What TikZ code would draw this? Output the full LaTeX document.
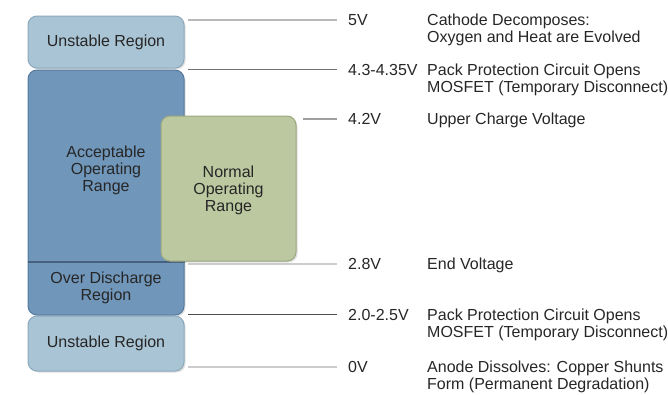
\documentclass[tikz,border=0pt]{standalone}
\usepackage{fontspec}
\setmainfont{Liberation Sans}
\usetikzlibrary{positioning,shadows}
\definecolor{unstfill}{HTML}{A9C4D4}
\definecolor{unstdraw}{HTML}{8CA9BC}
\definecolor{accfill}{HTML}{7096BA}
\definecolor{accdraw}{HTML}{56799E}
\definecolor{normfill}{HTML}{BCC8A0}
\definecolor{normdraw}{HTML}{9BA881}
\definecolor{txtgray}{HTML}{262626}
\begin{document}
\begin{tikzpicture}[x=1pt,y=-1pt,
  every node/.style={font=\fontsize{16}{17}\selectfont,text=txtgray},
  region/.style={draw,rounded corners=9pt,line width=1pt,
    drop shadow={shadow xshift=1.5pt,shadow yshift=-1.5pt,opacity=.25}},
  lbl/.style={align=center,inner sep=0pt},
  volt/.style={anchor=north west,inner sep=0pt},
  desc/.style={anchor=north west,inner sep=0pt,align=left},
  lvl/.style={line width=1.8pt,draw=gray!55}]
\useasboundingbox (0,0) rectangle (668,394);

% regions
\node[region,fill=unstfill,draw=unstdraw,minimum width=156pt,minimum height=52pt] (unstTop) at (106,42) {};
\node[region,fill=accfill,draw=accdraw,minimum width=156pt,minimum height=245pt] (accept) at (106,192.5) {};
\draw[accdraw!80!black,line width=1.2pt] (accept.west |- 0,262) -- (accept.east |- 0,262);
\node[region,fill=normfill,draw=normdraw,minimum width=135pt,minimum height=145pt] (normal) at (228.5,188.5) {};
\node[region,fill=unstfill,draw=unstdraw,minimum width=156pt,minimum height=55pt] (unstBot) at (106,343.5) {};

\node[lbl] (tUnstTop) at (unstTop) {Unstable Region};
\node[lbl] (tAccept) at (106,170) {Acceptable\\Operating\\Range};
\node[lbl] (tNormal) at (228.5,190) {Normal\\Operating\\Range};
\node[lbl] (tOver) at (106,288) {Over Discharge\\Region};
\node[lbl] (tUnstBot) at (unstBot) {Unstable Region};

% voltages
\node[volt] (v5) at (348,14) {5V};
\node[volt] (v43) at (348,64) {4.3-4.35V};
\node[volt] (v42) at (348,113) {4.2V};
\node[volt] (v28) at (348,258) {2.8V};
\node[volt] (v20) at (348,309) {2.0-2.5V};
\node[volt] (v0) at (348,361) {0V};

\node[desc] (d5) at (427,14) {Cathode Decomposes:\\Oxygen and Heat are Evolved};
\node[desc] (d43) at (427,64) {Pack Protection Circuit Opens\\MOSFET (Temporary Disconnect)};
\node[desc] (d42) at (427,113) {Upper Charge Voltage};
\node[desc] (d28) at (427,258) {End Voltage};
\node[desc] (d20) at (427,309) {Pack Protection Circuit Opens\\MOSFET (Temporary Disconnect)};
\node[desc] (d0) at (427,361) {Anode Dissolves: Copper Shunts\\Form (Permanent Degradation)};

% level lines
\coordinate (boxEdge) at (188,0);
\coordinate (normEdge) at (303,0);
\draw[lvl] (boxEdge |- v5.west) -- ([xshift=-11pt]v5.west);
\draw[lvl,line width=1.2pt,draw=gray!90!black] (boxEdge |- v43.west) -- ([xshift=-11pt]v43.west);
\draw[lvl,line width=2.4pt,draw=gray!75] (normEdge |- v42.west) -- ([xshift=-11pt]v42.west);
\draw[lvl,draw=gray!40] (boxEdge |- v28.west) -- ([xshift=-11pt]v28.west);
\draw[lvl,line width=1.2pt,draw=black!70] (boxEdge |- v20.west) -- ([xshift=-11pt]v20.west);
\draw[lvl,draw=gray!40] (boxEdge |- v0.west) -- ([xshift=-11pt]v0.west);
\end{tikzpicture}
\end{document}
